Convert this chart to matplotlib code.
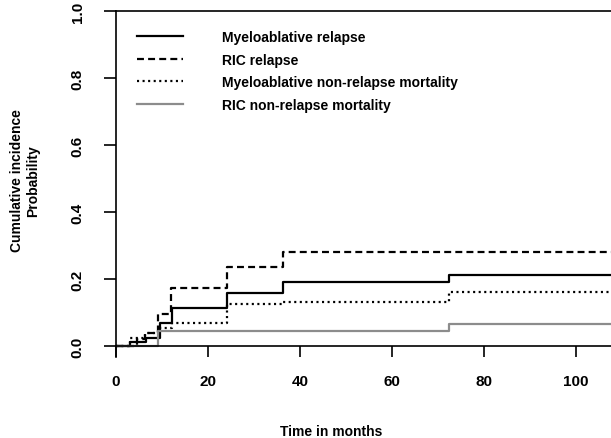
import matplotlib
matplotlib.use('Agg')
import matplotlib.pyplot as plt

plt.rcParams['font.family'] = 'Liberation Sans'
plt.rcParams['font.weight'] = 'bold'
plt.rcParams['lines.scale_dashes'] = False

# cumulative incidence step curves (months, probability)
mye_rel_t = [0, 3.0, 6.5, 9.5, 12.2, 24.2, 36.3, 72.3, 115]
mye_rel_p = [0, 0.012, 0.025, 0.07, 0.113, 0.158, 0.192, 0.212, 0.212]

ric_rel_t = [0, 4.5, 6.3, 9.2, 12.0, 24.2, 36.3, 115]
ric_rel_p = [0, 0.02, 0.04, 0.095, 0.172, 0.236, 0.28, 0.28]

mye_nrm_t = [0, 3.0, 6.3, 9.2, 12.2, 24.2, 36.3, 72.3, 115]
mye_nrm_p = [0, 0.025, 0.04, 0.055, 0.07, 0.125, 0.13, 0.16, 0.16]

ric_nrm_t = [0, 9.2, 72.3, 115]
ric_nrm_p = [0, 0.045, 0.066, 0.066]

labels = ['Myeloablative relapse', 'RIC relapse',
          'Myeloablative non-relapse mortality', 'RIC non-relapse mortality']
xticks = [0, 20, 40, 60, 80, 100]
yticks = [0.0, 0.2, 0.4, 0.6, 0.8, 1.0]

W, H = 611, 439
fig = plt.figure(figsize=(W / 100, H / 100), dpi=100)
ax = fig.add_axes([116 / W, (H - 358) / H, (W - 116) / W, (358 - 12) / H])

ax.step(mye_rel_t, mye_rel_p, where='post', color='black', lw=1.6, label=labels[0])
ax.step(ric_rel_t, ric_rel_p, where='post', color='black', lw=1.6,
        dashes=(5, 3), label=labels[1])
ax.step(mye_nrm_t, mye_nrm_p, where='post', color='black', lw=1.6,
        dashes=(1.5, 2.5), label=labels[2])
ax.step(ric_nrm_t, ric_nrm_p, where='post', color='#8c8c8c', lw=1.6, label=labels[3])

ax.set_xlim(0, 107.6)
ax.set_ylim(-0.033, 1.0)
ax.spines['right'].set_visible(False)
ax.spines['bottom'].set_position(('data', 0))
for s in ['left', 'bottom', 'top']:
    ax.spines[s].set_linewidth(1.2)

ax.set_xticks(xticks)
ax.set_xticklabels([str(v) for v in xticks])
ax.set_yticks(yticks)
ax.set_yticklabels([f'{v:.1f}' for v in yticks], rotation=90, va='center')
ax.tick_params(axis='x', direction='out', length=7.9, width=1.2, pad=12, labelsize=11)
ax.tick_params(axis='y', direction='out', length=8.6, width=1.2, pad=14, labelsize=11)

fig.text(331 / W, 1 - 432 / H, 'Time in months', ha='center', va='center', fontsize=10)
fig.text(25 / W, 1 - 181 / H, 'Cumulative incidence\nProbability', rotation=90,
         ha='center', va='center', multialignment='center', fontsize=10)

ax.legend(loc='upper left', bbox_to_anchor=(137 / W, 1 - 31 / H),
          bbox_transform=fig.transFigure, frameon=False, fontsize=10,
          handlelength=3.3, handletextpad=2.8, borderpad=0, borderaxespad=0,
          labelspacing=0.62)

fig.savefig('out.png', dpi=100)
